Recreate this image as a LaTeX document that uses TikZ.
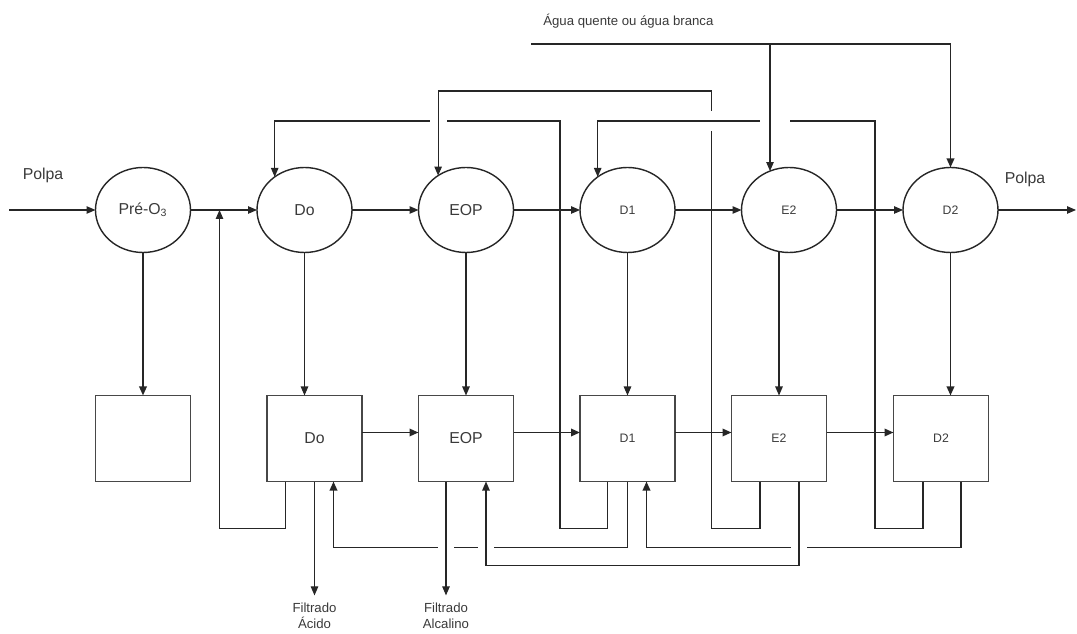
\documentclass[tikz,border=0pt]{standalone}
\usepackage{fontspec}
\setmainfont{Liberation Sans}
\usetikzlibrary{positioning,shapes.geometric,arrows.meta}
\definecolor{inkdrk}{HTML}{262626}
\definecolor{txtgray}{HTML}{3a3a3a}

\begin{document}
\begin{tikzpicture}[
	stage/.style={ellipse, draw=inkdrk, line width=0.8pt, minimum width=1.9cm, minimum height=1.7cm, inner sep=0pt, outer sep=0pt, text=txtgray},
	washer/.style={rectangle, draw=inkdrk!85, line width=0.6pt, minimum width=1.9cm, minimum height=1.72cm, inner sep=0pt, outer sep=0pt, text=txtgray},
	flow/.style={draw=inkdrk, line width=0.6pt, -{Triangle[length=1.8mm,width=1.5mm]}},
	heavy/.style={line width=1pt},
	cutline/.style={draw=white, line width=2.5pt},
	lbl/.style={text=txtgray, font=\fontsize{7.5}{9}\selectfont, inner sep=0pt},
	bigtxt/.style={font=\fontsize{9}{11}\selectfont},
	smalltxt/.style={font=\fontsize{7}{8}\selectfont}
	]
	\useasboundingbox (-2.86,4.2) rectangle (18.68,-8.48);

	\node[stage, bigtxt] (pre) {Pré-O\textsubscript{3}};
	\node[stage, bigtxt, right=1.33cm of pre] (Do) {Do};
	\node[stage, bigtxt, right=1.33cm of Do] (EOP) {EOP};
	\node[stage, smalltxt, right=1.33cm of EOP] (D1) {D1};
	\node[stage, smalltxt, right=1.33cm of D1] (E2) {E2};
	\node[stage, smalltxt, right=1.33cm of E2] (D2) {D2};

	\node[washer, below=2.86cm of pre] (preb) {};
	\node[washer, bigtxt, below=2.86cm of Do, xshift=0.2cm] (Dob) {Do};
	\node[washer, bigtxt, below=2.86cm of EOP] (EOPb) {EOP};
	\node[washer, smalltxt, below=2.86cm of D1] (D1b) {D1};
	\node[washer, smalltxt, below=2.86cm of E2, xshift=-0.2cm] (E2b) {E2};
	\node[washer, smalltxt, below=2.86cm of D2, xshift=-0.19cm] (D2b) {D2};

	\coordinate[left=1.72cm of pre] (in);
	\coordinate[right=1.56cm of D2] (out);
	\coordinate[right=0.58cm of pre] (mix);
	\coordinate[above left=1.78cm and 0.4cm of D1.west] (c1);
	\coordinate[above left=2.38cm and 0.6cm of E2.west] (c2);
	\coordinate[above left=1.78cm and 0.56cm of D2.west] (c3);
	\coordinate[above left=3.32cm and 0.98cm of D1.west] (w0);

	\node[lbl, bigtxt] (polpain) at ([xshift=0.67cm,yshift=0.7cm]in) {Polpa};
	\node[lbl, bigtxt] (polpaout) at ([xshift=0.54cm,yshift=0.62cm]D2.east) {Polpa};
	\node[lbl, anchor=west] (agua) at ([xshift=0.24cm,yshift=0.46cm]w0) {Água quente ou água branca};
	\node[lbl, align=center, inner sep=1.5mm] (fac) at ([yshift=-2.69cm]Dob.south) {Filtrado\\Ácido};
	\node[lbl, align=center, inner sep=1.5mm] (falc) at ([xshift=-0.4cm,yshift=-2.69cm]EOPb.south) {Filtrado\\Alcalino};

	% pulp line
	\draw[flow] (in) -- (pre);
	\draw[flow] (pre) -- (Do);
	\draw[flow] (Do) -- (EOP);
	\draw[flow] (EOP) -- (D1);
	\draw[flow] (D1) -- (E2);
	\draw[flow] (E2) -- (D2);
	\draw[flow] (D2) -- (out);

	\draw[flow, heavy] (pre) -- (preb);
	\draw[flow] (Do) -- (Do |- Dob.north);
	\draw[flow] (EOP) -- (EOPb);
	\draw[flow] (D1) -- (D1b);
	\draw[flow] (E2b.north |- E2.south) -- (E2b.north);
	\draw[flow, heavy] (D2) -- (D2 |- D2b.north);

	\draw[flow, heavy] ([yshift=0.12cm]Dob.east) -- ([yshift=0.12cm]EOPb.west);
	\draw[flow, heavy] ([yshift=0.12cm]EOPb.east) -- ([yshift=0.12cm]D1b.west);
	\draw[flow, heavy] ([yshift=0.12cm]D1b.east) -- ([yshift=0.12cm]E2b.west);
	\draw[flow, heavy] ([yshift=0.12cm]E2b.east) -- ([yshift=0.12cm]D2b.west);

	% filtrates back up
	\draw[flow] ([xshift=-0.58cm]Dob.south) -- ++(0,-0.94) -| (mix);
	\draw[flow] ([xshift=-0.4cm]D1b.south) -- ++(0,-0.94) -| (c1) -- (Do.132 |- c1) -- (Do.132);
	\draw[cutline] ([xshift=-0.17cm]EOP.129 |- c1) -- ([xshift=0.17cm]EOP.129 |- c1);
	\draw[flow] ([xshift=-0.38cm]E2b.south) -- ++(0,-0.94) -| (c2) -- (EOP.129 |- c2) -- (EOP.129);
	\draw[cutline] ([yshift=0.2cm]c2 |- c3) -- ([yshift=-0.2cm]c2 |- c3);
	\draw[flow] ([xshift=-0.36cm]D2b.south) -- ++(0,-0.94) -| (c3) -- (D1.132 |- c3) -- (D1.132);
	\draw[cutline] ([xshift=-0.2cm]E2.116 |- c3) -- ([xshift=0.4cm]E2.116 |- c3);

	% water
	\draw[flow, heavy] (w0) -- (w0 -| D2) -- (D2.north);
	\draw[flow] (E2.116 |- w0) -- (E2.116);

	% lower returns
	\draw[flow, heavy] (D1b.south) -- ++(0,-1.32) -| ([xshift=0.38cm]Dob.south);
	\draw[flow, heavy] ([xshift=0.4cm]D2b.south) -- ++(0,-1.32) -| ([xshift=0.38cm]D1b.south);
	\draw[cutline] ([xshift=-0.56cm,yshift=-1.32cm]EOPb.south) -- ([xshift=-0.24cm,yshift=-1.32cm]EOPb.south);
	\draw[cutline] ([xshift=0.24cm,yshift=-1.32cm]EOPb.south) -- ([xshift=0.56cm,yshift=-1.32cm]EOPb.south);
	\draw[cutline] ([xshift=0.24cm,yshift=-1.32cm]E2b.south) -- ([xshift=0.56cm,yshift=-1.32cm]E2b.south);
	\draw[flow] ([xshift=0.4cm]E2b.south) -- ++(0,-1.68) -| ([xshift=0.4cm]EOPb.south);

	\draw[flow] (Dob.south) -- (fac);
	\draw[flow] (falc |- EOPb.south) -- (falc);
\end{tikzpicture}
\end{document}
